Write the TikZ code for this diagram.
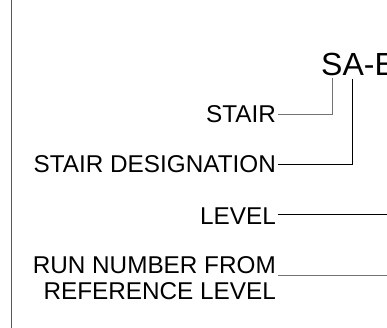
\documentclass[tikz,border=0pt]{standalone}
\usepackage{fontspec}
\setmainfont{Liberation Sans}
\begin{document}
\begin{tikzpicture}[x=1pt,y=1pt,
  lbl/.style={font=\fontsize{24.3}{26.5}\selectfont, inner sep=0pt, align=right},
  leadg/.style={draw=black!55, line width=1pt},
  leadk/.style={draw=black, line width=1pt}]
\useasboundingbox (0,0) rectangle (387,328);
\draw[draw=black!65, line width=1.6pt] (11.5,0) -- (11.5,328);
\node[font=\fontsize{32}{36}\selectfont, inner sep=0pt, anchor=base west] (code) at (321,252) {SA-E};
\node[lbl, anchor=base east] (stair) at (276,205) {STAIR};
\node[lbl, anchor=base east] (desig) at (276,155) {STAIR DESIGNATION};
\node[lbl, anchor=base east] (level) at (276,103) {LEVEL};
\node[lbl, anchor=north east] (run) at (276,72) {RUN NUMBER FROM\\REFERENCE LEVEL};
\coordinate (c1) at (332,250);
\coordinate (c2) at (352,249);
\coordinate (c3) at (387,113);
\coordinate (c4) at (387,52);
\draw[leadg] (c1) |- ([xshift=2pt]stair.east);
\draw[leadk] (c2) |- ([xshift=2pt]desig.east);
\draw[leadk] ([xshift=2pt]level.east |- c3) -- (c3);
\draw[leadg] ([xshift=2pt]run.north east |- c4) -- (c4);
\end{tikzpicture}
\end{document}
